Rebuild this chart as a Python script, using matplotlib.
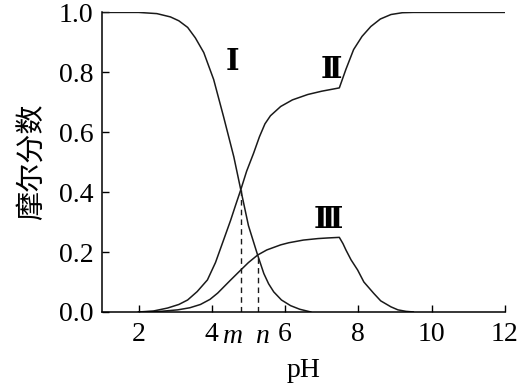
import matplotlib
matplotlib.use('Agg')
import matplotlib.pyplot as plt

# pH -> mole fraction
ph_1 = [1.0, 2.0, 2.5, 2.87, 3.1, 3.34, 3.55, 3.78, 4.05, 4.32, 4.6, 4.79, 5.0, 5.25, 5.42, 5.55, 5.69, 5.9, 6.15, 6.4, 6.7]
y_1 = [1.0, 1.0, 0.996, 0.985, 0.972, 0.95, 0.915, 0.866, 0.776, 0.652, 0.518, 0.408, 0.288, 0.19, 0.128, 0.094, 0.067, 0.04, 0.021, 0.009, 0.0]

ph_2 = [2.0, 2.4, 2.79, 3.1, 3.34, 3.6, 3.88, 4.1, 4.32, 4.51, 4.65, 4.79, 4.95, 5.14, 5.3, 5.45, 5.6, 5.88, 6.2, 6.62, 7.0, 7.48, 7.66, 7.87, 8.1, 8.34, 8.6, 8.89, 9.2, 9.5, 10.0, 12.0]
y_2 = [0.0, 0.003, 0.013, 0.025, 0.04, 0.068, 0.107, 0.165, 0.24, 0.305, 0.357, 0.408, 0.47, 0.53, 0.585, 0.628, 0.655, 0.686, 0.708, 0.726, 0.737, 0.748, 0.81, 0.876, 0.92, 0.953, 0.978, 0.993, 0.999, 1.0, 1.0, 1.0]

ph_3 = [2.0, 2.6, 3.07, 3.4, 3.69, 3.95, 4.16, 4.5, 4.79, 5.0, 5.25, 5.5, 5.88, 6.1, 6.5, 6.9, 7.16, 7.48, 7.58, 7.66, 7.8, 7.98, 8.15, 8.42, 8.61, 8.89, 9.08, 9.3, 9.5]
y_3 = [0.0, 0.002, 0.007, 0.014, 0.025, 0.042, 0.063, 0.105, 0.14, 0.165, 0.19, 0.207, 0.224, 0.231, 0.24, 0.245, 0.247, 0.249, 0.228, 0.207, 0.174, 0.14, 0.1, 0.062, 0.037, 0.017, 0.007, 0.002, 0.0]

m_ph, m_y = 4.79, 0.408
n_ph, n_y = 5.25, 0.19

serif = ['Liberation Serif', 'DejaVu Serif']
roman = ['DejaVu Serif', 'Noto Sans CJK SC']

fig = plt.figure(figsize=(5.2, 3.88), dpi=100)
ax = fig.add_axes([0.196, 0.196, 0.775, 0.772])

ax.plot(ph_1, y_1, color='#1a1a1a', lw=1.1)
ax.plot(ph_2, y_2, color='#1a1a1a', lw=1.1)
ax.plot(ph_3, y_3, color='#1a1a1a', lw=1.1)

# dashed guides at m and n
ax.plot([m_ph, m_ph], [0, m_y], color='#1a1a1a', lw=1.0, ls=(0, (4, 3)))
ax.plot([n_ph, n_ph], [0, n_y], color='#1a1a1a', lw=1.0, ls=(0, (4, 3)))

ax.text(4.57, 0.836, 'Ⅰ', fontsize=21, family=roman, ha='center', va='center', fontweight='bold')
ax.text(7.25, 0.81, 'Ⅱ', fontsize=21, family=roman, ha='center', va='center', fontweight='bold')
ax.text(7.19, 0.31, 'Ⅲ', fontsize=21, family=roman, ha='center', va='center', fontweight='bold')

ax.set_xlim(1.0, 12.0)
ax.set_ylim(0, 1.0)
ax.set_xticks([2, 4, 6, 8, 10, 12])
ax.set_yticks([0.0, 0.2, 0.4, 0.6, 0.8, 1.0])
ax.set_yticklabels(['0.0', '0.2', '0.4', '0.6', '0.8', '1.0'])
ax.tick_params(direction='in', length=5, width=1, labelsize=20)
ax.tick_params(axis='x', pad=7)
ax.tick_params(axis='y', pad=6)
for lab in ax.get_xticklabels() + ax.get_yticklabels():
    lab.set_family(serif)

# m and n under the axis
ax.text(m_ph - 0.2, -0.04, 'm', fontsize=20, family=serif, style='italic',
        ha='center', va='top')
ax.text(n_ph + 0.12, -0.04, 'n', fontsize=20, family=serif, style='italic',
        ha='center', va='top')

ax.spines['top'].set_visible(False)
ax.spines['right'].set_visible(False)
for s in ['left', 'bottom']:
    ax.spines[s].set_linewidth(1.1)

ax.set_xlabel('pH', fontsize=20, family=serif, labelpad=8)
ax.set_ylabel('摩尔分数', fontsize=21, family=['Noto Sans CJK SC', 'DejaVu Sans'], labelpad=8)

fig.savefig('out.png', dpi=100)
